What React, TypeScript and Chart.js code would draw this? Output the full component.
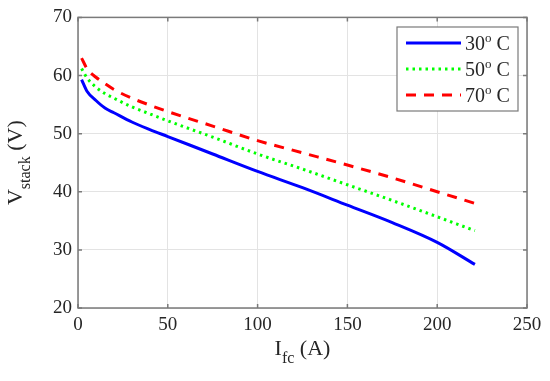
import React, { useEffect, useRef } from "react";
import { Chart, registerables } from "chart.js";

Chart.register(...registerables);

const current = [2, 5, 10, 15, 20, 30, 40, 50, 75, 100, 125, 150, 175, 200, 221];
const v30 = [59.3, 57.3, 55.7, 54.4, 53.6, 52.0, 50.7, 49.5, 46.5, 43.5, 40.7, 37.7, 34.7, 31.3, 27.5];
const v50 = [61.2, 59.6, 58.0, 56.9, 56.1, 54.6, 53.4, 52.2, 49.4, 46.5, 43.9, 41.2, 38.5, 35.7, 33.3];
const v70 = [63.0, 61.2, 59.7, 58.6, 57.6, 56.1, 54.9, 53.8, 51.3, 48.8, 46.7, 44.6, 42.4, 40.0, 38.0];
const seriesNames = ["30", "50", "70"];
const seriesColors = ["#0000ff", "#00ff00", "#ff0000"];
const seriesDash = [[], [2.5, 4], [10, 8]];

const FONT = "'Liberation Serif', 'Times New Roman', serif";
const TEXT = "#262626";

type Part = { t: string; size: number; dy: number };

function drawParts(ctx: CanvasRenderingContext2D, parts: Part[], x: number, y: number, align: "left" | "center") {
  let total = 0;
  const widths = parts.map((p) => {
    ctx.font = `${p.size}px ${FONT}`;
    const w = ctx.measureText(p.t).width;
    total += w;
    return w;
  });
  let cx = align === "center" ? x - total / 2 : x;
  parts.forEach((p, i) => {
    ctx.font = `${p.size}px ${FONT}`;
    ctx.fillText(p.t, cx, y + p.dy);
    cx += widths[i];
  });
}

const decorPlugin = {
  id: "decor",
  afterDraw(chart: any) {
    const { ctx, chartArea } = chart;
    const { left, right, top, bottom } = chartArea;
    const xs = chart.scales.x;
    const ys = chart.scales.y;
    ctx.save();
    // box
    ctx.strokeStyle = "#7a7a7a";
    ctx.lineWidth = 1.5;
    ctx.strokeRect(left, top, right - left, bottom - top);
    // inward tick marks
    ctx.beginPath();
    xs.ticks.forEach((t: any) => {
      const px = xs.getPixelForValue(t.value);
      ctx.moveTo(px, bottom);
      ctx.lineTo(px, bottom - 4);
      ctx.moveTo(px, top);
      ctx.lineTo(px, top + 4);
    });
    ys.ticks.forEach((t: any) => {
      const py = ys.getPixelForValue(t.value);
      ctx.moveTo(left, py);
      ctx.lineTo(left + 4, py);
      ctx.moveTo(right, py);
      ctx.lineTo(right - 4, py);
    });
    ctx.stroke();

    // axis titles
    ctx.fillStyle = TEXT;
    ctx.textBaseline = "alphabetic";
    ctx.textAlign = "left";
    drawParts(
      ctx,
      [
        { t: "I", size: 22, dy: 0 },
        { t: "fc", size: 16, dy: 8 },
        { t: " (A)", size: 22, dy: 0 },
      ],
      (left + right) / 2,
      355,
      "center"
    );
    ctx.save();
    ctx.translate(22, (top + bottom) / 2);
    ctx.rotate(-Math.PI / 2);
    drawParts(
      ctx,
      [
        { t: "V", size: 22, dy: 0 },
        { t: "stack", size: 16, dy: 8 },
        { t: " (V)", size: 22, dy: 0 },
      ],
      0,
      0,
      "center"
    );
    ctx.restore();

    // legend
    const lx = 397, ly = 27, lw = 121, lh = 84;
    ctx.fillStyle = "#ffffff";
    ctx.fillRect(lx, ly, lw, lh);
    ctx.strokeStyle = "#7a7a7a";
    ctx.lineWidth = 1.2;
    ctx.strokeRect(lx, ly, lw, lh);
    const rows = [43, 69, 95];
    rows.forEach((ry, i) => {
      ctx.strokeStyle = seriesColors[i];
      ctx.lineWidth = 3;
      ctx.setLineDash(seriesDash[i]);
      ctx.beginPath();
      ctx.moveTo(406, ry);
      ctx.lineTo(461, ry);
      ctx.stroke();
      ctx.setLineDash([]);
      ctx.fillStyle = TEXT;
      drawParts(
        ctx,
        [
          { t: seriesNames[i], size: 20, dy: 0 },
          { t: "o", size: 13, dy: -8 },
          { t: " C", size: 20, dy: 0 },
        ],
        465,
        ry + 7,
        "left"
      );
    });
    ctx.restore();
  },
};

export default function App() {
  const ref = useRef<HTMLCanvasElement>(null);
  useEffect(() => {
    if (!ref.current) return;
    const mk = (vals: number[]) => current.map((x, i) => ({ x, y: vals[i] }));
    const all = [v30, v50, v70];
    const chart = new Chart(ref.current, {
      type: "line",
      data: {
        datasets: all.map((vals, i) => ({
          label: seriesNames[i] + "° C",
          data: mk(vals),
          borderColor: seriesColors[i],
          backgroundColor: seriesColors[i],
          borderWidth: 3,
          borderDash: seriesDash[i],
          pointRadius: 0,
          fill: false,
          cubicInterpolationMode: "monotone" as const,
        })),
      },
      options: {
        responsive: false,
        animation: false,
        layout: { padding: { left: 0, right: 23, top: 14, bottom: 0 } },
        plugins: { legend: { display: false }, tooltip: { enabled: false } },
        scales: {
          x: {
            type: "linear",
            min: 0,
            max: 250,
            ticks: { stepSize: 50, color: TEXT, padding: 6, font: { family: FONT, size: 19 } },
            grid: { color: "#e3e3e3", drawTicks: false, lineWidth: 1 },
            border: { display: false },
            afterFit: (s: any) => {
              s.height = 73;
            },
          },
          y: {
            type: "linear",
            min: 20,
            max: 70,
            ticks: { stepSize: 10, color: TEXT, padding: 6, font: { family: FONT, size: 19 } },
            grid: { color: "#e3e3e3", drawTicks: false, lineWidth: 1 },
            border: { display: false },
            afterFit: (s: any) => {
              s.width = 78;
            },
          },
        },
      },
      plugins: [decorPlugin],
    });
    return () => chart.destroy();
  }, []);
  return (
    <div style={{ position: "absolute", left: 0, top: 0, width: 550, height: 381, background: "#fff" }}>
      <canvas ref={ref} width={550} height={381} />
    </div>
  );
}
